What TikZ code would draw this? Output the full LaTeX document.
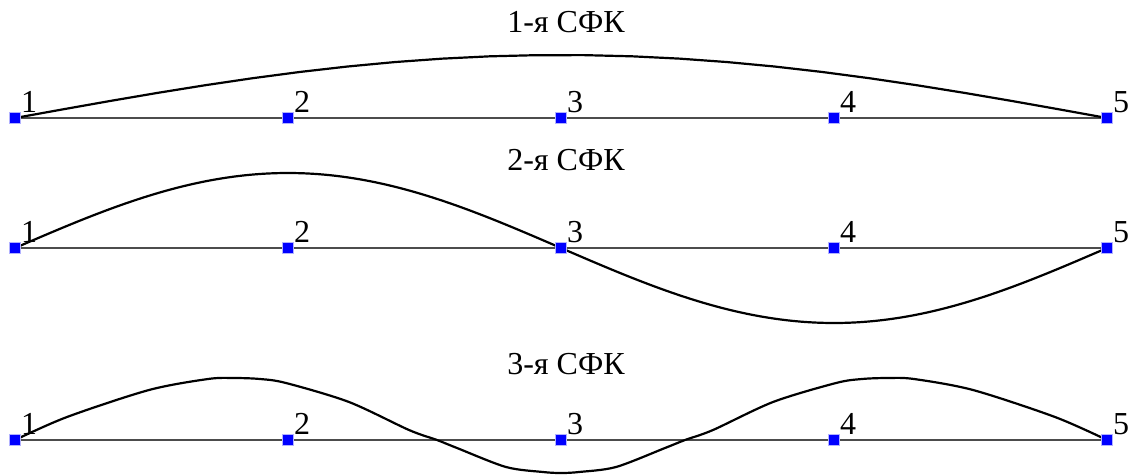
\documentclass[tikz,border=0pt]{standalone}
\usepackage{fontspec}
\setmainfont{Liberation Serif}
\usepackage{tikz}

\tikzset{
  uzel/.style={rectangle,inner sep=0pt,minimum size=11pt,fill=blue,draw=blue!30!white,line width=0.8pt},
  nomer/.style={anchor=base west,inner sep=0pt,font=\fontsize{32}{38}\selectfont},
  zagol/.style={anchor=base,inner sep=0pt,font=\fontsize{32}{38}\selectfont},
  balka/.style={line width=1.2pt,black!70},
  forma/.style={line width=2.2pt,black,line join=round}
}

\begin{document}
\begin{tikzpicture}[x=1pt,y=-1pt]
  \useasboundingbox (0,0) rectangle (1135,474);
  % titles
  \node[zagol] (t1) at (566,32) {1-я СФК};
  \node[zagol] (t2) at (566,170) {2-я СФК};
  \node[zagol] (t3) at (566,374) {3-я СФК};
  % beams: rows m1,m2,m3
  \foreach \m/\y in {1/118,2/248,3/440}{
    \foreach \i/\x in {1/15,2/288,3/561,4/834,5/1107}
      \coordinate (m\m n\i) at (\x,\y);
    \draw[balka] (m\m n1) -- (m\m n2) -- (m\m n3) -- (m\m n4) -- (m\m n5);
  }
  % mode shapes
  \draw[forma] plot[domain=0:1,samples=24] ({15+1092*\x},{118-63*sin(180*\x)});
  \draw[forma] plot[domain=0:1,samples=80,smooth] ({15+1092*\x},{248-75*sin(360*\x)});
  \draw[forma] plot[smooth,tension=0.5] coordinates {(15,440) (67,417) (149,390) (208,379) (234,378)
    (260,379) (286,383) (349,402) (409,430) (437,440) (457,448) (506,467) (543,472) (561,473)
    (579,472) (616,467) (665,448) (685,440) (713,430) (773,402) (836,383) (862,379) (888,378)
    (914,379) (973,390) (1055,417) (1107,440)};
  % nodes and numbers
  \foreach \m in {1,2,3}{
    \foreach \i in {1,...,5}{
      \node[uzel] (u\m\i) at (m\m n\i) {};
      \node[nomer] (l\m\i) at ([xshift=6pt,yshift=6pt]m\m n\i) {\i};
    }
  }
\end{tikzpicture}
\end{document}
